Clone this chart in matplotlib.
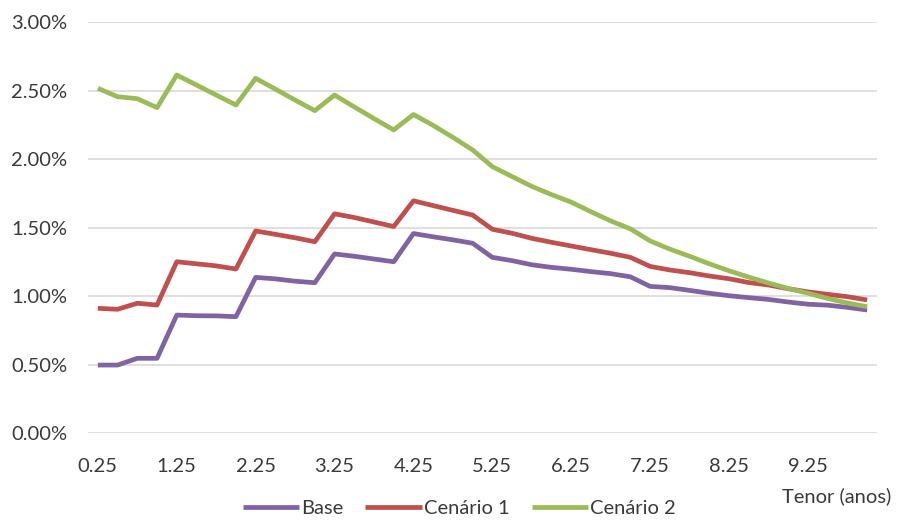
import matplotlib.pyplot as plt
from matplotlib.ticker import FuncFormatter

# prazos (anos) e curvas em %
tenor = [0.25 * (k + 1) for k in range(40)]
tick_labels = ["0.25", "1.25", "2.25", "3.25", "4.25", "5.25", "6.25", "7.25", "8.25", "9.25"]

base = [0.496, 0.496, 0.545, 0.545, 0.861, 0.856, 0.855, 0.849,
        1.136, 1.125, 1.108, 1.097, 1.307, 1.290, 1.270, 1.250,
        1.456, 1.432, 1.410, 1.385, 1.282, 1.258, 1.228, 1.209,
        1.195, 1.178, 1.163, 1.140, 1.070, 1.061, 1.041, 1.020,
        1.002, 0.988, 0.975, 0.956, 0.940, 0.933, 0.917, 0.898]

cenario1 = [0.910, 0.903, 0.947, 0.934, 1.250, 1.235, 1.220, 1.197,
            1.475, 1.450, 1.425, 1.396, 1.600, 1.573, 1.540, 1.507,
            1.695, 1.660, 1.625, 1.591, 1.487, 1.458, 1.421, 1.392,
            1.365, 1.338, 1.312, 1.282, 1.216, 1.190, 1.170, 1.146,
            1.126, 1.098, 1.080, 1.053, 1.030, 1.012, 0.995, 0.971]

cenario2 = [2.516, 2.455, 2.440, 2.375, 2.613, 2.540, 2.467, 2.394,
            2.589, 2.510, 2.430, 2.353, 2.467, 2.380, 2.295, 2.212,
            2.325, 2.245, 2.158, 2.066, 1.944, 1.872, 1.800, 1.740,
            1.685, 1.615, 1.548, 1.490, 1.402, 1.342, 1.290, 1.235,
            1.184, 1.138, 1.095, 1.055, 1.020, 0.982, 0.949, 0.922]

plt.rcParams['font.family'] = ['Lato', 'DejaVu Sans']
fs = 14.5

fig = plt.figure(figsize=(9.04, 5.2), dpi=100)
ax = fig.add_axes([88 / 904, 87 / 520, 789 / 904, 411 / 520])

x = list(range(len(tenor)))
ax.plot(x, base, color='#8064A2', lw=3.4, label='Base', solid_capstyle='butt')
ax.plot(x, cenario1, color='#C0504D', lw=3.4, label='Cenário 1', solid_capstyle='butt')
ax.plot(x, cenario2, color='#9BBB59', lw=3.4, label='Cenário 2', solid_capstyle='butt')

ax.set_xlim(-0.5, len(tenor) - 0.5)
ax.set_ylim(0, 3.0)
ax.set_yticks([0, 0.5, 1.0, 1.5, 2.0, 2.5, 3.0])
ax.yaxis.set_major_formatter(FuncFormatter(lambda v, p: f"{v:.2f}%"))
ax.set_xticks(x[::4])
ax.set_xticklabels(tick_labels)

ax.grid(axis='y', color='#D9D9D9', lw=1.2)
ax.set_axisbelow(True)
for s in ax.spines.values():
    s.set_visible(False)
ax.tick_params(axis='both', length=0, labelsize=fs, colors='#3A3A3A')
ax.tick_params(axis='y', pad=15)
ax.tick_params(axis='x', pad=18)

fig.text(0.9255, 0.045, 'Tenor (anos)', fontsize=fs, color='#3A3A3A',
         ha='center', va='center')

fig.legend(loc='center', bbox_to_anchor=(0.508, 0.022), ncol=3, frameon=False,
           fontsize=fs, handlelength=2.8, columnspacing=1.1, handletextpad=0.1,
           labelcolor='#3A3A3A')

fig.savefig('out.png', dpi=100, facecolor='white')
